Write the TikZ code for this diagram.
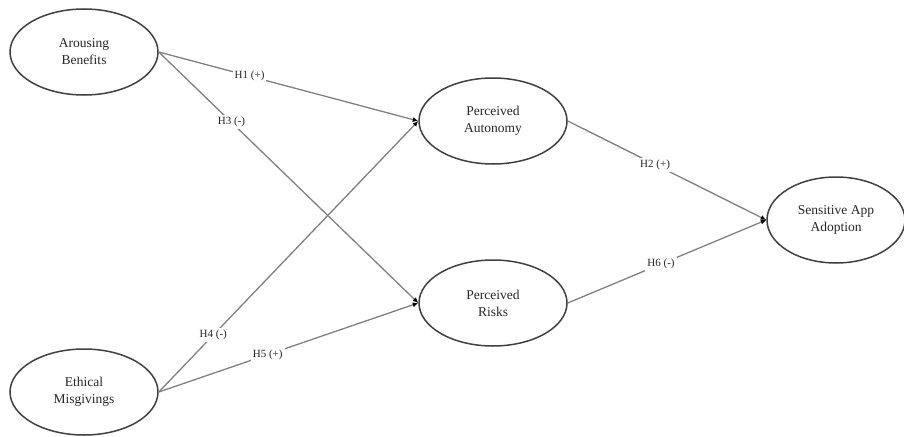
\documentclass[tikz,border=0pt]{standalone}
\usepackage{fontspec}
\setmainfont{Liberation Serif}
\usetikzlibrary{shapes.geometric,arrows.meta}
\begin{document}
\begin{tikzpicture}[x=1pt,y=-1pt,
	latent/.style={ellipse,draw=black!75,line width=1.5pt,minimum width=148pt,minimum height=86pt,
		align=center,text=black!85,font=\fontsize{13.5}{17}\selectfont},
	hyp/.style={fill=white,inner sep=2pt,text=black!85,font=\fontsize{11}{12}\selectfont},
	link/.style={draw=black!50,line width=1.3pt,-{Latex[length=5.5pt,width=5pt,color=black]}}]
\useasboundingbox (0,0) rectangle (904,436);
\node[latent] (ab) at (84,52) {Arousing\\Benefits};
\node[latent] (em) at (84,392) {Ethical\\Misgivings};
\node[latent] (pa) at (493,121) {Perceived\\Autonomy};
\node[latent] (pr) at (493,303) {Perceived\\Risks};
\node[latent,minimum width=138pt] (sa) at (836,220) {Sensitive App\\Adoption};
\draw[link] (ab.east) -- node[hyp,pos=.35] {H1 (+)} (pa.west);
\draw[link] (ab.east) -- node[hyp,pos=.28] {H3 (-)} (pr.west);
\draw[link] (em.east) -- node[hyp,pos=.21] {H4 (-)} (pa.west);
\draw[link] (em.east) -- node[hyp,pos=.42] {H5 (+)} (pr.west);
\draw[link] (pa.east) -- node[hyp,pos=.44] {H2 (+)} (sa.west);
\draw[link] (pr.east) -- node[hyp,pos=.47] {H6 (-)} (sa.west);
\end{tikzpicture}
\end{document}
